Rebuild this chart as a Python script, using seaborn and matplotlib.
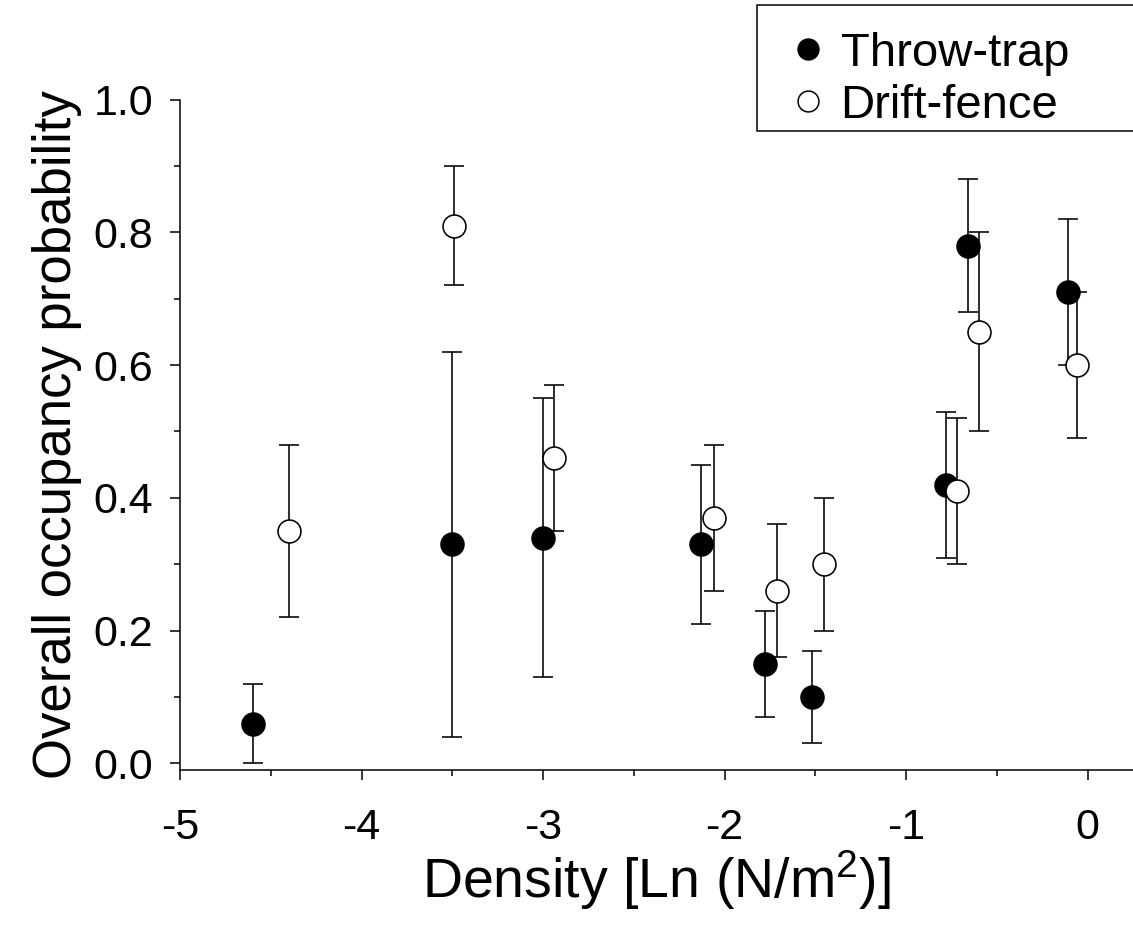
import matplotlib
matplotlib.use("Agg")
import matplotlib.pyplot as plt
from matplotlib.ticker import MultipleLocator
from matplotlib.patches import Rectangle
from matplotlib.lines import Line2D
import seaborn as sns
import pandas as pd

# Throw-trap estimates: density, occupancy probability and interval bounds
throw_x = [-4.60, -3.50, -3.00, -2.13, -1.78, -1.52, -0.78, -0.66, -0.11]
throw_y = [0.06, 0.33, 0.34, 0.33, 0.15, 0.10, 0.42, 0.78, 0.71]
throw_lo = [0.00, 0.04, 0.13, 0.21, 0.07, 0.03, 0.31, 0.68, 0.60]
throw_hi = [0.12, 0.62, 0.55, 0.45, 0.23, 0.17, 0.53, 0.88, 0.82]

# Drift-fence estimates
drift_x = [-4.40, -3.49, -2.94, -2.06, -1.71, -1.45, -0.72, -0.60, -0.06]
drift_y = [0.35, 0.81, 0.46, 0.37, 0.26, 0.30, 0.41, 0.65, 0.60]
drift_lo = [0.22, 0.72, 0.35, 0.26, 0.16, 0.20, 0.30, 0.50, 0.49]
drift_hi = [0.48, 0.90, 0.57, 0.48, 0.36, 0.40, 0.52, 0.80, 0.71]

methods = ["Throw-trap", "Drift-fence"]
x_ticks = [-5, -4, -3, -2, -1, 0]
y_ticks = [0.0, 0.2, 0.4, 0.6, 0.8, 1.0]

sns.set_style("ticks")
plt.rcParams["font.family"] = ["Liberation Sans", "DejaVu Sans"]
plt.rcParams["mathtext.fontset"] = "custom"
plt.rcParams["mathtext.rm"] = "Liberation Sans"
plt.rcParams["mathtext.default"] = "regular"
plt.rcParams["text.color"] = "black"
plt.rcParams["axes.labelcolor"] = "black"

df = pd.concat([
    pd.DataFrame({"density": throw_x, "occ": throw_y, "lo": throw_lo,
                  "hi": throw_hi, "method": methods[0]}),
    pd.DataFrame({"density": drift_x, "occ": drift_y, "lo": drift_lo,
                  "hi": drift_hi, "method": methods[1]}),
], ignore_index=True)

W, H = 1133, 940
fig = plt.figure(figsize=(W / 100, H / 100), dpi=100)
ax = fig.add_axes([180 / W, 170 / H, (W - 180) / W, (770 - 99.5) / H])

# interval bars for both series sit beneath the markers
for m in methods:
    d = df[df["method"] == m]
    ax.errorbar(d["density"], d["occ"],
                yerr=[d["occ"] - d["lo"], d["hi"] - d["occ"]],
                fmt="none", ecolor="black", elinewidth=1.15,
                capsize=7.5, capthick=1.15, zorder=2)

faces = {"Throw-trap": "black", "Drift-fence": "white"}
for i, m in enumerate(methods):
    sns.scatterplot(data=df[df["method"] == m], x="density", y="occ",
                    ax=ax, s=16.5 ** 2, marker="o", facecolor=faces[m],
                    edgecolor="black", linewidth=1.15, zorder=3 + i,
                    legend=False)

ax.set_xlim(-5, 0.25)
ax.set_ylim(-0.01, 1.0)
ax.set_xticks(x_ticks)
ax.set_xticklabels([str(t) for t in x_ticks])
ax.set_yticks(y_ticks)
ax.set_yticklabels([f"{t:.1f}" for t in y_ticks])
ax.xaxis.set_minor_locator(MultipleLocator(0.5))
ax.yaxis.set_minor_locator(MultipleLocator(0.1))

for side in ["top", "right"]:
    ax.spines[side].set_visible(False)
for side in ["left", "bottom"]:
    ax.spines[side].set_linewidth(1.1)
    ax.spines[side].set_color("black")

ax.tick_params(axis="both", which="major", direction="out", length=7.5,
               width=1.1, colors="black", labelsize=31)
ax.tick_params(axis="both", which="minor", direction="out", length=4.5,
               width=1.1, colors="black")
ax.tick_params(axis="x", which="major", pad=20)
ax.tick_params(axis="y", which="major", pad=12)

ax.set_xlabel(r"Density [Ln (N/m$^{2}$)]", fontsize=40, labelpad=0)
ax.set_ylabel("Overall occupancy probability", fontsize=38, labelpad=8)

# key box in the upper right corner, running off the figure's right edge
fig.patches.append(Rectangle((757 / W, 1 - 131 / H), (1145 - 757) / W,
                             (131 - 5) / H, transform=fig.transFigure,
                             facecolor="white", edgecolor="black",
                             linewidth=1.1, zorder=4))
handles = [Line2D([], [], linestyle="none", marker="o", markersize=15,
                  markerfacecolor=faces[m], markeredgecolor="black",
                  markeredgewidth=1.1) for m in methods]
fig.legend(handles, methods, loc="upper left",
           bbox_to_anchor=(791 / W, 1 - 32 / H), frameon=False,
           borderpad=0, borderaxespad=0, fontsize=34,
           handlelength=0.72, handletextpad=0.33, labelspacing=0.16)

fig.savefig("out.png", dpi=100)
